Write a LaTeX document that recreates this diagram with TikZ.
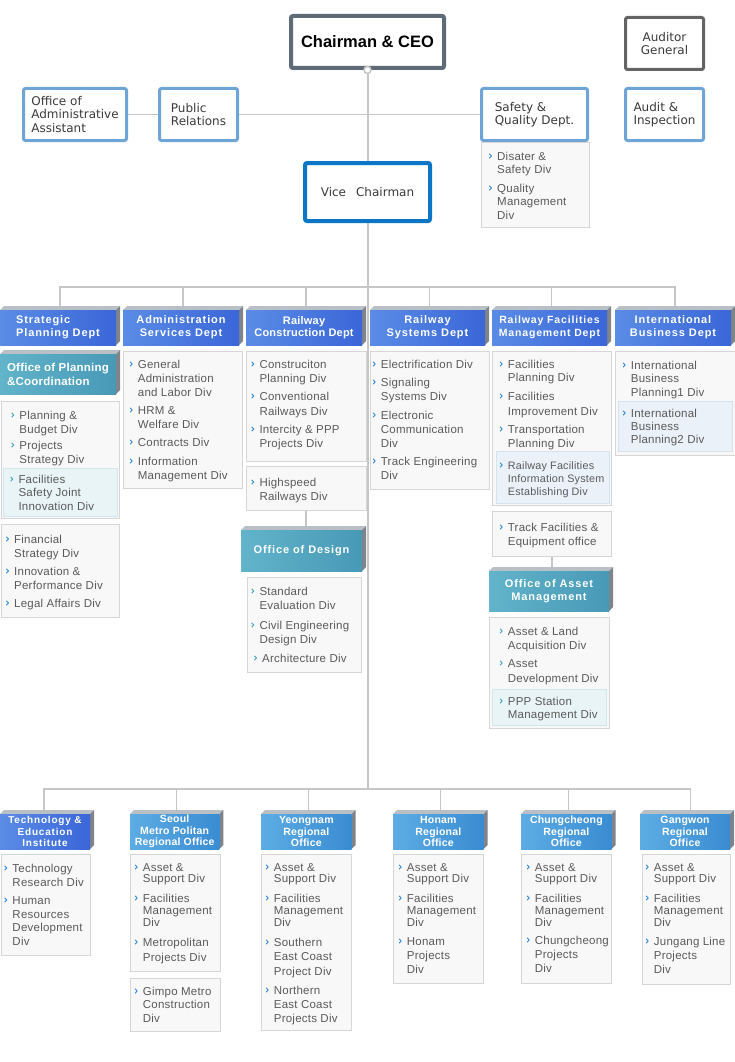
\documentclass[tikz,border=0pt]{standalone}
\usepackage{fontspec}
\setmainfont{Liberation Sans}[LetterSpace=2]
\newfontfamily\topfont{DejaVu Sans}
\newfontfamily\hdfont{Liberation Sans}[LetterSpace=8]
\newfontfamily\hdfontn{Liberation Sans}[LetterSpace=2]
\newfontfamily\ceofont{Liberation Sans}
\usetikzlibrary{backgrounds}
\definecolor{lineg}{HTML}{C6C6C6}
\definecolor{boxb}{HTML}{D6D6D6}
\definecolor{boxf}{HTML}{F8F8F8}
\definecolor{txt}{HTML}{5A5A5A}
\definecolor{toptxt}{HTML}{3A3A3A}
\definecolor{bulc}{HTML}{2A86D8}
\definecolor{bulteal}{HTML}{3FA2B8}
\definecolor{hlf}{HTML}{E9F4F6}
\definecolor{hlb}{HTML}{D2E7EC}
\definecolor{hlfb}{HTML}{EAF1F9}
\definecolor{hlbb}{HTML}{D5E3F0}
\definecolor{deptA}{HTML}{5A8CE6}
\definecolor{deptB}{HTML}{3A66D8}
\definecolor{tealA}{HTML}{62B4CB}
\definecolor{tealB}{HTML}{4799B6}
\definecolor{regA}{HTML}{5DACE4}
\definecolor{regB}{HTML}{3A8CD2}
\definecolor{topface}{HTML}{B8BFC5}
\definecolor{sideface}{HTML}{7E848A}
\definecolor{ceob}{HTML}{5E6B76}
\definecolor{audb}{HTML}{646464}
\definecolor{ltb}{HTML}{6FA4D6}
\definecolor{vcb}{HTML}{0B76C6}
\newcounter{licnt}
\def\lisz{11.5}
% list item: [baselineskip]{text x}{first line centre y}{text}
\newcommand\li[4][14]{%
  \stepcounter{licnt}%
  \draw[bul] (#2-7.6,#3-2.2) -- (#2-5.6,#3) -- (#2-7.6,#3+2.2);
  \node[item, font=\fontsize{\lisz}{#1}\selectfont] (li\arabic{licnt}) at (#2,#3-5) {\rule{0pt}{9pt}#4};
}
% div box: [style]{name}{x1}{y1}{x2}{y2}
\newcommand\dbx[6][divbox]{%
  \node[#1, anchor=north west, minimum width={#5-#3}, minimum height={#6-#4}] (#2) at (#3,#4) {};
}
% 3d header: {name}{x1}{top}{x2}{bottom}{face style}{text style}{text}
\newcommand\threed[8]{%
  \fill[topface] (#2,#3+4) -- (#2+4,#3) -- (#4+4,#3) -- (#4,#3+4) -- cycle;
  \fill[sideface] (#4,#3+4) -- (#4+4,#3) -- (#4+4,#5-4) -- (#4,#5) -- cycle;
  \path[#6] (#2,#3+4) rectangle (#4,#5);
  \node[#7] (#1) at ({(#2+#4)/2},{(#3+4+#5)/2}) {#8};
  \coordinate (#1-top) at ({(#2+#4+4)/2},#3);
}
\begin{document}
\begin{tikzpicture}[x=1pt,y=-1pt,
  conn/.style={draw=lineg, line width=1.3pt},
  mainconn/.style={draw=lineg, line width=2pt},
  divbox/.style={draw=boxb, fill=boxf, line width=1pt, inner sep=0pt},
  hlbox/.style={draw=hlb, fill=hlf, line width=0.8pt, inner sep=0pt},
  hlboxb/.style={draw=hlbb, fill=hlfb, line width=0.8pt, inner sep=0pt},
  bul/.style={draw=bulc, line width=0.9pt},
  item/.style={anchor=north west, inner sep=0pt, align=left, text=txt},
  topbox/.style={draw=ltb, line width=3pt, fill=white, rounded corners=2pt, inner sep=0pt,
    align=left, text=toptxt, font=\topfont\fontsize{12}{13.5}\selectfont},
  deptface/.style={left color=deptA, right color=deptB},
  tealface/.style={left color=tealA, right color=tealB},
  regface/.style={left color=regA, right color=regB},
  hdtext/.style={text=white, align=center, inner sep=0pt, font=\hdfont\bfseries\fontsize{11}{13}\selectfont},
  hdtextm/.style={text=white, align=center, inner sep=0pt, font=\hdfont\bfseries\fontsize{10.5}{13}\selectfont},
  hdtextL/.style={text=white, align=left, inner sep=0pt, font=\hdfont\bfseries\fontsize{11}{13}\selectfont},
  hdtextn/.style={text=white, align=center, inner sep=0pt, font=\hdfontn\bfseries\fontsize{11}{12.5}\selectfont},
  opctext/.style={text=white, align=left, inner sep=0pt, font=\hdfontn\bfseries\fontsize{11.5}{14}\selectfont},
  bhd/.style={text=white, align=center, inner sep=0pt, font=\hdfont\bfseries\fontsize{10}{11.5}\selectfont},
  bhdn/.style={text=white, align=center, inner sep=0pt, font=\hdfontn\bfseries\fontsize{10.5}{11.5}\selectfont},
]
\useasboundingbox (0,0) rectangle (735,1062);

% ---------- top level ----------
\node[draw=ceob, line width=4pt, fill=white, rounded corners=2pt, inner sep=0pt,
  minimum width=153, minimum height=52, font=\ceofont\bfseries\fontsize{16.5}{18}\selectfont]
  (ceo) at (367.5,42) {Chairman \& CEO};
\node[topbox, draw=audb, minimum width=78, minimum height=52, align=center] (aud) at (664.5,43.5) {Auditor\\General};
\node[topbox, minimum width=103, minimum height=52] (oaa) at (75,114.5) {Office of\\Administrative\\Assistant};
\node[topbox, minimum width=78, minimum height=52] (pr) at (198.5,114.5) {Public\\Relations};
\node[topbox, minimum width=106, minimum height=52] (sqd) at (534.5,114.5) {Safety \&\\Quality Dept.};
\node[topbox, minimum width=78, minimum height=52] (ain) at (664.5,114.5) {Audit \&\\Inspection};
\node[topbox, draw=vcb, line width=4pt, minimum width=125, minimum height=58, align=center] (vc) at (367.5,192) {Vice\hspace{10pt}Chairman};
\node[draw=lineg, line width=1.5pt, fill=white, circle, minimum size=7pt, inner sep=0pt] (ceoc) at (ceo.south) {};

\dbx{sqsub}{480.5}{142}{588.5}{226.5}
\li[13]{497}{156}{Disater \&\\Safety Div}
\li[13.5]{497}{188}{Quality\\Management\\Div}

% ---------- departments ----------
\threed{spd}{0}{306}{116}{345}{deptface}{hdtextL}{Strategic\\Planning Dept}
\threed{asd}{123}{306}{239}{345}{deptface}{hdtext}{Administration\\Services Dept}
\threed{rcd}{246}{306}{362}{345}{deptface}{hdtextn}{Railway\\Construction Dept}
\threed{rsd}{370}{306}{485}{345}{deptface}{hdtext}{Railway\\Systems Dept}
\threed{rfd}{492}{306}{607}{345}{deptface}{hdtextm}{Railway Facilities\\Management Dept}
\threed{ibd}{615}{306}{731}{345}{deptface}{hdtext}{International\\Business Dept}

% Strategic planning
\threed{opc}{0}{350}{116}{394}{tealface}{opctext}{Office of Planning\\\&Coordination}
\begin{scope}
\colorlet{bulc}{bulteal}
\dbx{spb1}{0.5}{401}{119}{518}
\li{19.3}{415}{Planning \&\\Budget Div}
\li{19.3}{445}{Projects\\Strategy Div}
\dbx[hlbox]{sph}{3.3}{468}{116.7}{516}
\li[13.5]{18.3}{479}{Facilities\\Safety Joint\\Innovation Div}
\end{scope}
\dbx{spb2}{0.5}{524}{119}{616.5}
\li{14}{539}{Financial\\Strategy Div}
\li{14}{571}{Innovation \&\\Performance Div}
\li{14}{603}{Legal Affairs Div}

% Administration
\dbx{asb}{123}{350.5}{242}{488}
\li{137.7}{364}{General\\Administration\\and Labor Div}
\li{137.7}{410}{HRM \&\\Welfare Div}
\li{137.7}{442}{Contracts Div}
\li{137.7}{461}{Information\\Management Div}

% Construction
\dbx{rcb1}{246}{350.5}{366}{461}
\li{259.3}{364}{Construciton\\Planning Div}
\li[15]{259.3}{396}{Conventional\\Railways Div}
\li{259.3}{429}{Intercity \& PPP\\Projects Div}
\dbx{rcb2}{246}{465.5}{366}{510}
\li{259.3}{482}{Highspeed\\Railways Div}
\threed{ood}{241}{526}{362}{571}{tealface}{hdtext}{Office of Design}
\begin{scope}
\colorlet{bulc}{bulteal}
\dbx{oodb}{247}{577}{361}{672}
\li{259.3}{591}{Standard\\Evaluation Div}
\li{259.3}{625}{Civil Engineering\\Design Div}
\li{262}{658}{Architecture Div}
\end{scope}

% Systems
\dbx{rsb}{370}{350.5}{489}{489}
\li{380.7}{364}{Electrification Div}
\li{380.7}{382}{Signaling\\Systems Div}
\li{380.7}{415}{Electronic\\Communication\\Div}
\li{380.7}{461}{Track Engineering\\Div}

% Facilities
\dbx{rfb1}{492}{350.5}{611}{505}
\li[13]{507.7}{364}{Facilities\\Planning Div}
\li[15]{507.7}{396}{Facilities\\Improvement Div}
\li{507.7}{429}{Transportation\\Planning Div}
\dbx[hlboxb]{rfh}{495.7}{451}{609}{503}
{\def\lisz{10.8}\li[13]{507.7}{465}{Railway Facilities\\Information System\\Establishing Div}}
\dbx{rfb2}{492}{511}{611}{556}
\li{507.7}{527}{Track Facilities \&\\Equipment office}
\threed{oam}{489}{567}{609}{611}{tealface}{hdtext}{Office of Asset\\Management}
\begin{scope}
\colorlet{bulc}{bulteal}
\dbx{oamb}{489}{617}{609}{728}
\li{507.7}{631}{Asset \& Land\\Acquisition Div}
\li[15]{507.7}{663}{Asset\\Development Div}
\dbx[hlbox]{oamh}{492}{689}{606}{725}
\li[13]{507.7}{701}{PPP Station\\Management Div}
\end{scope}

% International
\dbx{ibb}{615}{350.5}{734.5}{455}
\li[13.5]{630.7}{365}{International\\Business\\Planning1 Div}
\dbx[hlboxb]{ibh}{618}{401}{732}{451}
\li[13]{630.7}{413}{International\\Business\\Planning2 Div}

% ---------- regional row ----------
\threed{tei}{0}{810}{90}{849}{deptface}{bhd}{Technology \&\\Education\\Institute}
\threed{smr}{130}{810}{219.3}{849}{regface}{bhdn}{Seoul\\Metro Politan\\Regional Office}
\threed{yro}{261}{810}{351.7}{849}{regface}{bhdn}{Yeongnam\\Regional\\Office}
\threed{hro}{393}{810}{483.7}{849}{regface}{bhdn}{Honam\\Regional\\Office}
\threed{cro}{521}{810}{611.7}{849}{regface}{bhdn}{Chungcheong\\Regional\\Office}
\threed{gro}{640}{810}{730}{849}{regface}{bhdn}{Gangwon\\Regional\\Office}

\dbx{teib}{0.5}{854}{90}{955}
\li{12.3}{868}{Technology\\Research Div}
\li[13.8]{12.3}{900}{Human\\Resources\\Development\\Div}

\dbx{smrb1}{130}{854}{219.7}{971}
\li[11.5]{142.7}{867}{Asset \&\\Support Div}
\li[12]{142.7}{898}{Facilities\\Management\\Div}
\li[15]{142.7}{942}{Metropolitan\\Projects Div}
\dbx{smrb2}{130}{978}{219.7}{1031}
\li[13.5]{142.7}{991}{Gimpo Metro\\Construction\\Div}

\dbx{yrob}{261}{854}{350.7}{1030}
\li[11.5]{273.7}{867}{Asset \&\\Support Div}
\li[12]{273.7}{898}{Facilities\\Management\\Div}
\li[14.5]{273.7}{942}{Southern\\East Coast\\Project Div}
\li[14]{273.7}{990}{Northern\\East Coast\\Projects Div}

\dbx{hrob}{393.3}{854}{482.7}{983}
\li[11.5]{406.7}{867}{Asset \&\\Support Div}
\li[12]{406.7}{898}{Facilities\\Management\\Div}
\li[14]{406.7}{941}{Honam\\Projects\\Div}

\dbx{crob}{521.3}{854}{610.7}{983}
\li[11.5]{534.7}{867}{Asset \&\\Support Div}
\li[12]{534.7}{898}{Facilities\\Management\\Div}
\li[14]{534.7}{940}{Chungcheong\\Projects\\Div}

\dbx{grob}{641.7}{854}{729.7}{984}
\li[11.5]{653.7}{867}{Asset \&\\Support Div}
\li[12]{653.7}{898}{Facilities\\Management\\Div}
\li[14]{653.7}{941}{Jungang Line\\Projects\\Div}

% ---------- connectors ----------
\coordinate (dbus) at (367.5,287);
\coordinate (bbus) at (367.5,789);
\coordinate (b1) at (44,789);
\coordinate (b6) at (690.5,789);
\begin{pgfonlayer}{background}
\draw[mainconn] (ceo.south) -- (bbus);
\draw[conn] (oaa.east) -- (pr.west);
\draw[conn] (pr.east) -- (sqd.west);
\draw[conn] (spd-top) -- (spd-top |- dbus) -- (ibd-top |- dbus) -- (ibd-top);
\foreach \n in {asd,rcd,rsd,rfd} \draw[conn] (\n-top |- dbus) -- (\n-top);
\draw[conn] (rcb2.south -| rcd-top) -- (ood-top -| rcd-top);
\draw[conn] (rfb2.south) -- (rfb2.south |- oam-top);
\draw[conn] (b1 |- tei-top) -- (b1) -- (b6) -- (b6 |- gro-top);
\foreach \n in {smr,yro,hro,cro} \draw[conn] (\n-top |- bbus) -- (\n-top);
\end{pgfonlayer}
\end{tikzpicture}
\end{document}
